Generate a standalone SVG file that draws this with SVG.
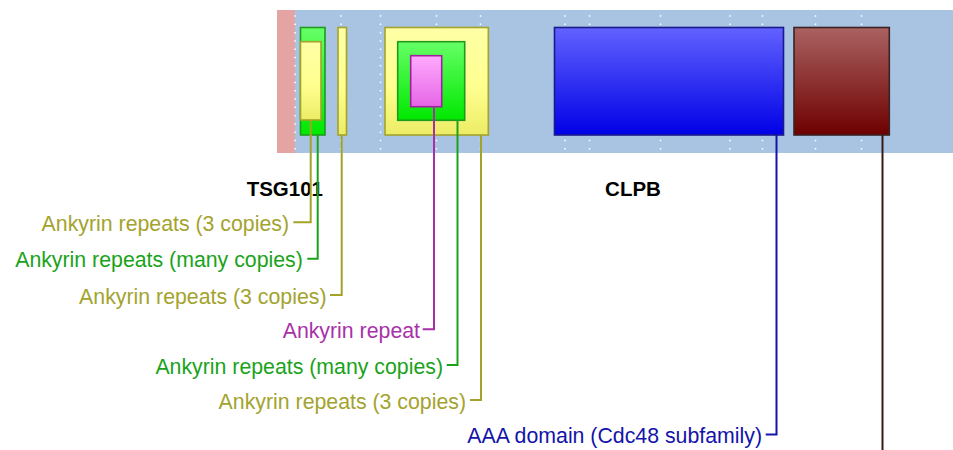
<svg xmlns="http://www.w3.org/2000/svg" width="953" height="450" viewBox="0 0 953 450">
<defs>
<linearGradient id="gy" x1="0" y1="0" x2="0" y2="1"><stop offset="0" stop-color="#ffffa6"/><stop offset="0.55" stop-color="#ffff90"/><stop offset="1" stop-color="#ecec66"/></linearGradient>
<linearGradient id="gg" x1="0" y1="0" x2="0" y2="1"><stop offset="0" stop-color="#66ff66"/><stop offset="1" stop-color="#00e800"/></linearGradient>
<linearGradient id="gm" x1="0" y1="0" x2="0" y2="1"><stop offset="0" stop-color="#ffaaff"/><stop offset="1" stop-color="#e666e6"/></linearGradient>
<linearGradient id="gb" x1="0" y1="0" x2="0" y2="1"><stop offset="0" stop-color="#6262ff"/><stop offset="1" stop-color="#0000e6"/></linearGradient>
<linearGradient id="gr" x1="0" y1="0" x2="0" y2="1"><stop offset="0" stop-color="#aa6262"/><stop offset="1" stop-color="#6e0000"/></linearGradient>
</defs>
<style>
.dot{stroke:#ffffff;stroke-width:1.5;stroke-dasharray:1.5 6.8;fill:none}
.box{stroke-width:1.6}
.y{fill:url(#gy);stroke:#a3a32a}
.g{fill:url(#gg);stroke:#1e9a1e}
.m{fill:url(#gm);stroke:#a020a0}
.b{fill:url(#gb);stroke:#1a1a8c}
.r{fill:url(#gr);stroke:#3a2222}
.c{fill:none;stroke-width:2}
.cy{stroke:#a3a32a}.cg{stroke:#1aa31a}.cm{stroke:#a82ea8}.cb{stroke:#1414a8}.cr{stroke:#3a1a14}
.lbl{font-family:"Liberation Sans",Arial,sans-serif;font-size:21.3px;text-anchor:end}
.ty{fill:#a3a32e}.tg{fill:#1aa31a}.tm{fill:#a832a8}.tb{fill:#1414a8}
.name{font-family:"Liberation Sans",Arial,sans-serif;font-size:20.5px;font-weight:bold;fill:#000000}
</style>
<g id="band">
<rect x="277" y="10" width="676" height="143" fill="#a8c4e2"/>
<rect x="277" y="10" width="18" height="143" fill="#e4a4a4"/>
</g>
<g id="grid">
<path class="dot" d="M295 15.3V153M341 15.3V153M380.5 15.3V153M436.5 15.3V153M480.5 15.3V153M565 15.3V153M589.5 15.3V153M660.5 15.3V153M730 15.3V153M762.5 15.3V153M815.5 15.3V153M861.5 15.3V153"/>
</g>
<g id="tsg101">
<rect id="tsg101-ank-many" class="box g" x="300.5" y="27.5" width="24.5" height="107.5"/>
<rect id="tsg101-ank-3a" class="box y" x="300.5" y="41.7" width="20.5" height="78.3"/>
<rect id="tsg101-ank-3b" class="box y" x="338" y="27.5" width="8.5" height="107.5"/>
<text class="name" x="323" y="196" text-anchor="end">TSG101</text>
</g>
<g id="ankyrin-cluster">
<rect id="ank-3" class="box y" x="385" y="27.5" width="103.3" height="107.5"/>
<rect id="ank-many" class="box g" x="397.7" y="41.7" width="67" height="78.6"/>
<rect id="ank-repeat" class="box m" x="410.7" y="55.7" width="31" height="51"/>
</g>
<g id="clpb">
<rect id="aaa" class="box b" x="554.5" y="27.5" width="229" height="107.5"/>
<rect id="brown" class="box r" x="794" y="27.5" width="95.3" height="107.5"/>
<text class="name" x="633" y="196" text-anchor="middle">CLPB</text>
</g>
<g id="connectors">
<path class="c cy" d="M310.7 120V222.3H293.3"/>
<path class="c cg" d="M317.7 135V258.7H307.3"/>
<path class="c cy" d="M341.7 135V295H330"/>
<path class="c cm" d="M434 106.7V329.3H422.7"/>
<path class="c cg" d="M457.5 120.3V365H446.7"/>
<path class="c cy" d="M481 135V400H470"/>
<path class="c cb" d="M776.5 135V434.5H765.7"/>
<path class="c cr" d="M882.5 135V450"/>
</g>
<g id="labels">
<text class="lbl ty" x="289" y="230.8">Ankyrin repeats (3 copies)</text>
<text class="lbl tg" x="302.8" y="267.2">Ankyrin repeats (many copies)</text>
<text class="lbl ty" x="326.5" y="303.5">Ankyrin repeats (3 copies)</text>
<text class="lbl tm" x="420" y="337.8">Ankyrin repeat</text>
<text class="lbl tg" x="443" y="373.5">Ankyrin repeats (many copies)</text>
<text class="lbl ty" x="466" y="408.5">Ankyrin repeats (3 copies)</text>
<text class="lbl tb" x="762" y="443">AAA domain (Cdc48 subfamily)</text>
</g>
</svg>
